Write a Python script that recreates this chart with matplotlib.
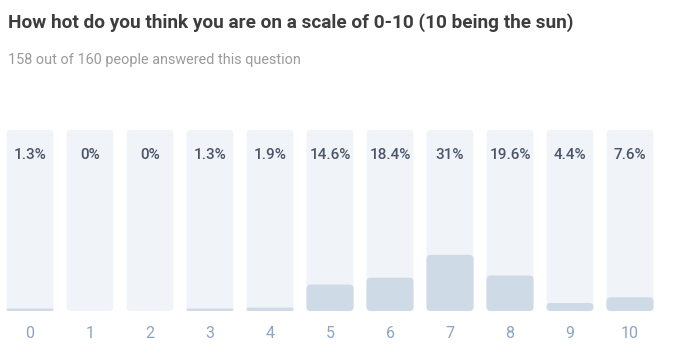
import matplotlib.pyplot as plt
from matplotlib.patches import FancyBboxPatch

# answers on the 0-10 scale
categories = ['0', '1', '2', '3', '4', '5', '6', '7', '8', '9', '10']
percents = [1.3, 0, 0, 1.3, 1.9, 14.6, 18.4, 31, 19.6, 4.4, 7.6]
labels = ['1.3%', '0%', '0%', '1.3%', '1.9%', '14.6%', '18.4%', '31%', '19.6%', '4.4%', '7.6%']

title = 'How hot do you think you are on a scale of 0-10 (10 being the sun)'
subtitle = '158 out of 160 people answered this question'

plt.rcParams['font.family'] = ['Roboto', 'DejaVu Sans']

fig = plt.figure(figsize=(6.8, 3.62), dpi=100)
ax = fig.add_axes([0.0, 0.1409, 0.9706, 0.5])

x = range(len(categories))
width = 0.783

# track (full height) and value bars, rounded afterwards
tracks = ax.bar(x, [100] * len(x), width=width, color='#f0f4f9')
bars = ax.bar(x, percents, width=width, color='#cfdae7')

# pixels per data unit, used to keep the rounded corners circular
px_x = 60.0
px_y = 181.0 / 100
aspect = px_x / px_y

for group, color, z in [(tracks, '#f0f4f9', 1), (bars, '#cfdae7', 2)]:
    for b in group:
        b.set_visible(False)
        h = b.get_height()
        if h <= 0:
            continue
        r = min(0.07, h / aspect / 2)
        patch = FancyBboxPatch((b.get_x(), b.get_y()), b.get_width(), h,
                               boxstyle=f'round,pad=0,rounding_size={r}',
                               mutation_aspect=aspect,
                               facecolor=color, edgecolor='none', zorder=z)
        ax.add_patch(patch)

for i, lab in enumerate(labels):
    ax.text(i, 86, lab, ha='center', va='center', fontsize=11,
            fontweight='medium', color='#4a5568', zorder=3)

ax.set_xlim(-0.5, len(categories) - 0.5)
ax.set_ylim(0, 100)
ax.set_xticks(list(x))
ax.set_xticklabels(categories, fontsize=11.5, color='#8aa4c8')
ax.tick_params(axis='x', length=0, pad=11)
ax.set_yticks([])
for s in ax.spines.values():
    s.set_visible(False)

fig.text(0.012, 0.938, title, fontsize=13.7, fontweight='bold',
         color='#3d3d3d', va='center', ha='left')
fig.text(0.012, 0.834, subtitle, fontsize=10.4, color='#9a9a9a',
         va='center', ha='left')

fig.savefig('out.png', dpi=100)
